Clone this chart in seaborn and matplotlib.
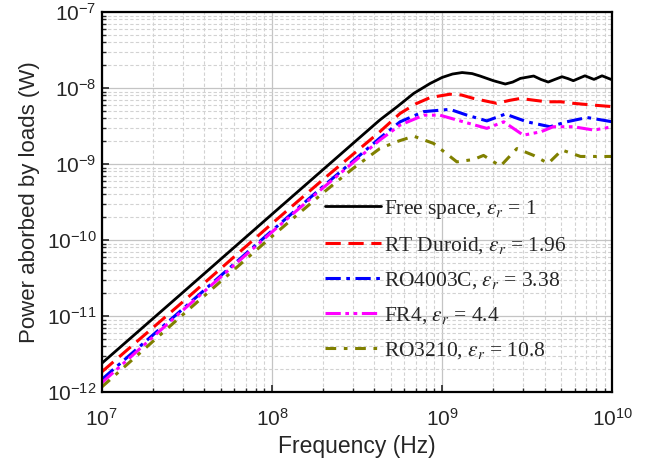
import numpy as np
import pandas as pd
import seaborn as sns
import matplotlib.pyplot as plt
from matplotlib.ticker import LogLocator, NullFormatter

# values (Hz, W)
free_f = [1e7, 3e7, 1e8, 2e8, 3e8, 4.3e8, 5.5e8, 6.8e8, 8.5e8, 1.0e9, 1.15e9, 1.31e9,
          1.5e9, 1.67e9, 2.0e9, 2.35e9, 2.6e9, 2.88e9, 3.45e9, 3.8e9, 4.2e9, 4.6e9,
          5.06e9, 5.5e9, 5.9e9, 6.9e9, 7.8e9, 8.7e9, 1e10]
free_p = [2.4e-12, 2.06e-11, 2.19e-10, 8.5e-10, 1.88e-9, 3.8e-9, 5.8e-9, 8.5e-9, 1.15e-8,
          1.38e-8, 1.53e-8, 1.6e-8, 1.55e-8, 1.44e-8, 1.25e-8, 1.13e-8, 1.2e-8, 1.34e-8,
          1.44e-8, 1.3e-8, 1.2e-8, 1.3e-8, 1.41e-8, 1.33e-8, 1.25e-8, 1.45e-8, 1.30e-8,
          1.45e-8, 1.28e-8]

rt_f = [1e7, 3e7, 1e8, 2e8, 3e8, 4.3e8, 5.66e8, 7e8, 8.5e8, 1.11e9, 1.3e9, 1.53e9,
        2.09e9, 2.5e9, 2.88e9, 3.5e9, 4.1e9, 5.0e9, 5.9e9, 7.5e9, 1e10]
rt_p = [1.85e-12, 1.55e-11, 1.65e-10, 6.3e-10, 1.35e-9, 2.66e-9, 4.64e-9, 6.2e-9, 7.5e-9,
        8.3e-9, 8.1e-9, 7.3e-9, 6.3e-9, 6.9e-9, 7.3e-9, 6.9e-9, 6.6e-9, 6.6e-9, 6.3e-9,
        6.0e-9, 5.7e-9]

ro4_f = [1e7, 3e7, 1e8, 2e8, 3e8, 4.3e8, 5.66e8, 7.8e8, 1.11e9, 1.4e9, 1.83e9, 2.35e9,
         3.15e9, 4.3e9, 5.4e9, 7.1e9, 1e10]
ro4_p = [1.47e-12, 1.25e-11, 1.33e-10, 5.1e-10, 1.1e-9, 2.2e-9, 3.6e-9, 4.9e-9, 5.25e-9,
         4.4e-9, 3.7e-9, 4.55e-9, 3.6e-9, 3.1e-9, 3.6e-9, 4.1e-9, 3.6e-9]

fr4_f = [1e7, 3e7, 1e8, 2e8, 3e8, 4.3e8, 5.66e8, 7.8e8, 9.7e8, 1.33e9, 1.83e9, 2.3e9,
         3.0e9, 3.8e9, 4.5e9, 5.9e9, 7.8e9, 1e10]
fr4_p = [1.33e-12, 1.2e-11, 1.28e-10, 4.9e-10, 1.05e-9, 2.07e-9, 3.26e-9, 4.4e-9, 4.4e-9,
         3.6e-9, 2.95e-9, 3.6e-9, 2.4e-9, 2.66e-9, 3.1e-9, 3.1e-9, 2.8e-9, 3.1e-9]

ro3_f = [1e7, 3e7, 1e8, 2e8, 3e8, 4.3e8, 5.4e8, 6.8e8, 8.9e8, 1.22e9, 1.53e9, 1.75e9,
         2.2e9, 2.75e9, 3.45e9, 4.2e9, 5.06e9, 6.5e9, 1e10]
ro3_p = [1.17e-12, 1.05e-11, 1.12e-10, 4.2e-10, 8.8e-10, 1.6e-9, 1.97e-9, 2.33e-9, 1.87e-9,
         1.07e-9, 1.15e-9, 1.3e-9, 0.94e-9, 1.6e-9, 1.3e-9, 1.02e-9, 1.53e-9, 1.26e-9,
         1.26e-9]

labels = [r"Free space, $\varepsilon_r$ = 1",
          r"RT Duroid, $\varepsilon_r$ = 1.96",
          r"RO4003C, $\varepsilon_r$ = 3.38",
          r"FR4, $\varepsilon_r$ = 4.4",
          r"RO3210, $\varepsilon_r$ = 10.8"]

sns.set_style("white")
plt.rcParams['font.family'] = ['Liberation Sans', 'DejaVu Sans']
plt.rcParams['mathtext.fontset'] = 'stix'

series = [(free_f, free_p, "black", "-", 2.0),
          (rt_f, rt_p, "#ff0000", (0, (5, 2.5)), 2.2),
          (ro4_f, ro4_p, "#0000ff", (0, (5, 1.8, 1.2, 1.8)), 2.2),
          (fr4_f, fr4_p, "#ff00ff", (0, (5, 1.5, 1.2, 1.5, 1.2, 1.5)), 2.2),
          (ro3_f, ro3_p, "#808000", (0, (3.5, 2.5, 1.2, 2.5)), 2.2)]

fig = plt.figure(figsize=(6.57, 4.63), dpi=100)
ax = fig.add_axes([0.155, 0.153, 0.777, 0.821])

for (f, p, c, ls, lw), lbl in zip(series, labels):
    df = pd.DataFrame({"f": f, "p": p})
    sns.lineplot(data=df, x="f", y="p", ax=ax, color=c, linestyle=ls, lw=lw, label=lbl)

ax.set_xscale("log")
ax.set_yscale("log")
ax.set_xlim(1e7, 1e10)
ax.set_ylim(1e-12, 1e-7)
ax.xaxis.set_minor_locator(LogLocator(base=10, subs=np.arange(2, 10), numticks=20))
ax.yaxis.set_minor_locator(LogLocator(base=10, subs=np.arange(2, 10), numticks=20))
ax.xaxis.set_minor_formatter(NullFormatter())
ax.yaxis.set_minor_formatter(NullFormatter())

ax.grid(which="major", ls="-", color="#c4c4c4", lw=0.9)
ax.grid(which="minor", ls=(0, (3, 2)), color="#d2d2d2", lw=0.8)
ax.set_axisbelow(True)

for s in ax.spines.values():
    s.set_color("black")
    s.set_linewidth(1.6)
ax.tick_params(which="major", direction="in", length=5, width=1.2, labelsize=15,
               bottom=True, left=True, top=False, right=False)
ax.tick_params(axis="x", which="major", pad=11)
ax.tick_params(axis="y", which="major", pad=4)
ax.tick_params(which="minor", direction="in", length=3, width=1.0,
               bottom=True, left=True, top=False, right=False)

ax.set_xlabel("Frequency (Hz)", fontsize=16.5, labelpad=4)
ax.set_ylabel("Power aborbed by loads (W)", fontsize=16, labelpad=5)

leg = ax.legend(loc="center left", bbox_to_anchor=(0.42, 0.297), frameon=False,
                prop={"family": "Liberation Serif", "size": 15.5}, handlelength=2.6,
                handletextpad=0.15, labelspacing=0.65, borderaxespad=0)

fig.savefig("out.png", dpi=100)
